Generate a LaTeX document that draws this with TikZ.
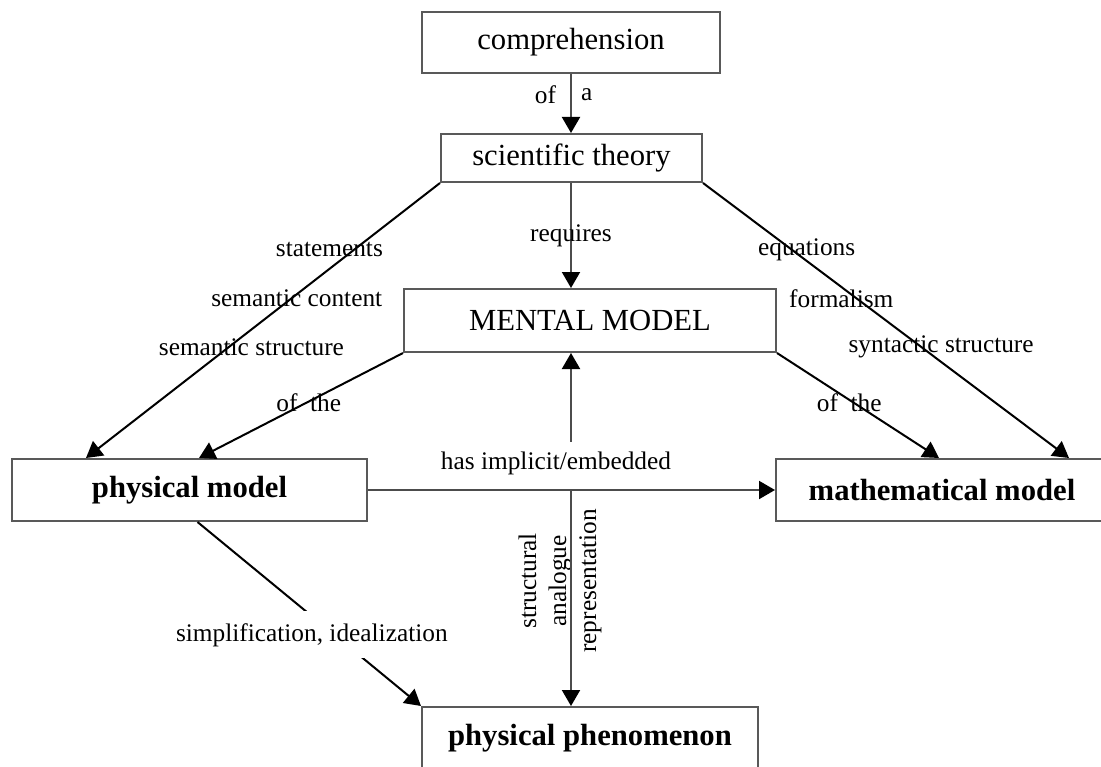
\documentclass[tikz,border=0pt]{standalone}
\usepackage{fontspec}
\setmainfont{Liberation Serif}
\usetikzlibrary{arrows.meta,calc}

\tikzstyle{box} = [draw=black!65, line width=1.5pt, minimum height=46.5pt, inner sep=0pt, font=\fontsize{23}{27}\selectfont]
\tikzstyle{bbox} = [box, font=\fontsize{23}{27}\selectfont\bfseries]
\tikzstyle{lbl} = [font=\fontsize{19}{22.5}\selectfont, inner sep=1pt]
\tikzstyle{arr} = [draw=black!70, line width=1.5pt, -{Triangle[length=12pt,width=13.5pt,color=black]}]
\tikzstyle{darr} = [arr, draw=black]

\begin{document}
\begin{tikzpicture}[x=0.75pt, y=-0.75pt]
\clip (0,0) rectangle (1101,767);
% boxes
\node[box, minimum width=223.5pt, minimum height=45.75pt] (comp) at (571,42.5) {comprehension};
\node[box, minimum width=195.75pt, minimum height=36pt] (theory) at (571.5,158) {scientific theory};
\node[box, minimum width=279pt, minimum height=47.25pt] (mental) at (590,320.5) {MENTAL MODEL};
\node[bbox, minimum width=266.25pt] (pm) at (189.5,490) {physical model};
\node[bbox, minimum width=249pt] (mm) at (942,490) {mathematical model};
\node[bbox, minimum width=252pt] (phen) at (590,738) {physical phenomenon};
\coordinate (hub) at (571,490);
% free labels
\node[lbl] (emb) at (556,463) {has implicit/embedded};
\node[lbl, rotate=90, align=center] (sar) at (560,581) {structural\\analogue\\representation};

% vertical axis
\draw[arr] (hub |- comp.south) -- (hub |- theory.north)
	node[lbl, pos=.35, left, xshift=-9.5pt] {of}
	node[lbl, pos=.35, right, xshift=5.75pt] {a};
\draw[arr] (hub |- theory.south) -- (hub |- mental.north)
	node[lbl, pos=.5] {requires};
\draw[arr] ([yshift=6pt]hub |- emb.north) -- (hub |- mental.south);
\draw[arr] (pm) -- (mm);
\draw[arr] (hub) -- (hub |- phen.north);

% left side
\draw[darr] (theory.south west) -- ($(pm.north west)+(75,0)$)
	node[lbl, pos=.242, xshift=-18.7pt] {statements}
	node[lbl, pos=.419, xshift=3.8pt] {semantic content}
	node[lbl, pos=.596, xshift=16.8pt] {semantic structure};
\draw[darr] (mental.south west) -- ($(pm.north west)+(188,0)$)
	node[lbl, pos=.477, xshift=2.3pt] {of\ \ the};

% right side
\draw[darr] (theory.south east) -- ($(mm.north west)+(294,0)$)
	node[lbl, pos=.242, xshift=11.3pt] {equations}
	node[lbl, pos=.419, xshift=-11.3pt] {formalism}
	node[lbl, pos=.596, xshift=15pt] {syntactic structure};
\draw[darr] (mental.south east) -- ($(mm.north west)+(164,0)$)
	node[lbl, pos=.477, xshift=-3.8pt] {of\ \ the};

% bottom
\draw[darr] ($(pm.south)+(8,0)$) -- (phen.north west)
	node[lbl, pos=.613, xshift=-17pt, fill=white, minimum height=35pt] {simplification, idealization};
\end{tikzpicture}
\end{document}
